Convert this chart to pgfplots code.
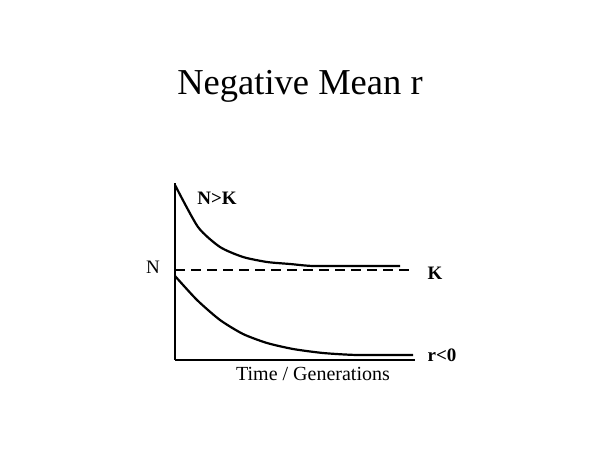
\documentclass[border=0pt]{standalone}
\usepackage{fontspec}
\setmainfont{Liberation Serif}
\usepackage{pgfplots}
\pgfplotsset{compat=1.18}

\begin{document}
\begin{tikzpicture}[x=1pt,y=1pt]
\useasboundingbox[fill=white] (0,0) rectangle (600,450);
\node[anchor=base, font=\fontsize{36.5}{40}\selectfont] at (300,355) {Negative Mean r};
\begin{axis}[
    at={(175pt,90pt)}, anchor=south west,
    scale only axis,
    width=240pt, height=177pt,
    xmin=0, xmax=240, ymin=0, ymax=177,
    axis x line*=bottom, axis y line*=left,
    axis line style={-, line width=1.3pt},
    xtick=\empty, ytick=\empty,
    clip=false
]
  % approaching K from above
  \addplot[black, line width=2.2pt, smooth, tension=0.4] coordinates {
    (0,175) (23,133) (45,113) (68,103) (92,98) (115,96) (138,94) (182,94) (225,94)
  };
  % declining population, r < 0
  \addplot[black, line width=2.2pt, smooth, tension=0.4] coordinates {
    (0,84) (22,60) (45,40) (68,26) (92,17) (118,11) (148,7) (182,5) (238,5)
  };
  % carrying capacity
  \addplot[black, line width=2.2pt, dash pattern=on 10pt off 6pt] coordinates {
    (0,90) (238,90)
  };
  \node[font=\fontsize{19}{21}\selectfont] at (axis cs:-22,93) {N};
  \node[font=\fontsize{19}{21}\selectfont\bfseries] at (axis cs:42,162) {N>K};
  \node[font=\fontsize{19}{21}\selectfont\bfseries] at (axis cs:260,87) {K};
  \node[font=\fontsize{19}{21}\selectfont\bfseries] at (axis cs:267,5) {r<0};
  \node[font=\fontsize{20}{22}\selectfont] at (axis cs:138,-14) {Time / Generations};
\end{axis}
\end{tikzpicture}
\end{document}
